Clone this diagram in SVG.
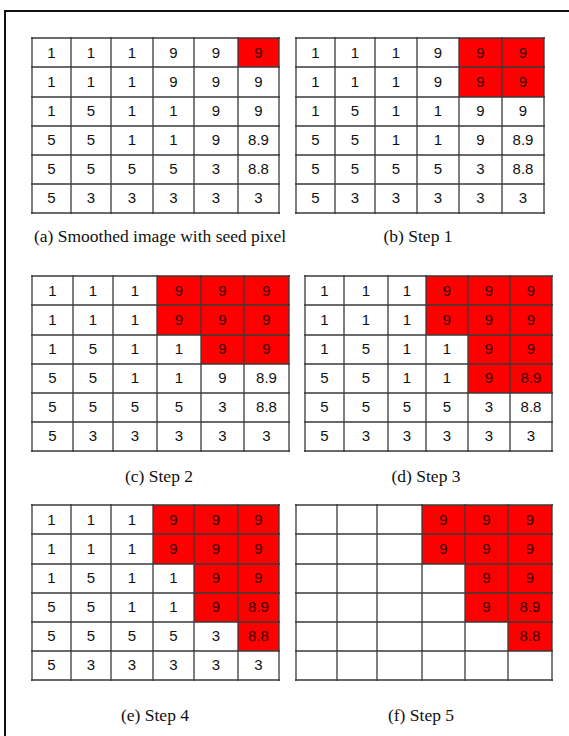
<svg xmlns="http://www.w3.org/2000/svg" width="569" height="736" viewBox="0 0 569 736">
<style>
.bg{fill:#ffffff}
.red{fill:#ff0000}
.gl{stroke:#3a3a3a;stroke-width:1.3;fill:none}
.v{font-family:"Liberation Sans",Arial,sans-serif;font-size:15px;fill:#111;text-anchor:middle}
.vr{fill:#3a0000}
.cap{font-family:"Liberation Serif","Times New Roman",serif;font-size:17.5px;fill:#111;text-anchor:middle}
.frame{stroke:#111;stroke-width:2;fill:none}
</style>
<rect class="bg" x="0" y="0" width="569" height="736"/>
<path class="frame" d="M5,736 V11 H569"/>

<!-- Grid A -->
<g id="grid-a">
<rect class="red" x="238" y="38" width="41" height="29"/>
<path class="gl" d="M31,38H280M31,67H280M31,97H280M31,126H280M31,155H280M31,184H280M31,213H280M32,37V214M71,37V214M111,37V214M153,37V214M194,37V214M238,37V214M279,37V214"/>
<g class="v">
<text x="51.5" y="58">1</text><text x="91" y="58">1</text><text x="132" y="58">1</text><text x="173.5" y="58">9</text><text x="216" y="58">9</text><text class="vr" x="258.5" y="58">9</text>
<text x="51.5" y="87">1</text><text x="91" y="87">1</text><text x="132" y="87">1</text><text x="173.5" y="87">9</text><text x="216" y="87">9</text><text x="258.5" y="87">9</text>
<text x="51.5" y="116">1</text><text x="91" y="116">5</text><text x="132" y="116">1</text><text x="173.5" y="116">1</text><text x="216" y="116">9</text><text x="258.5" y="116">9</text>
<text x="51.5" y="145">5</text><text x="91" y="145">5</text><text x="132" y="145">1</text><text x="173.5" y="145">1</text><text x="216" y="145">9</text><text x="258.5" y="145">8.9</text>
<text x="51.5" y="174">5</text><text x="91" y="174">5</text><text x="132" y="174">5</text><text x="173.5" y="174">5</text><text x="216" y="174">3</text><text x="258.5" y="174">8.8</text>
<text x="51.5" y="203">5</text><text x="91" y="203">3</text><text x="132" y="203">3</text><text x="173.5" y="203">3</text><text x="216" y="203">3</text><text x="258.5" y="203">3</text>
</g>
<text class="cap" x="160" y="242">(a) Smoothed image with seed pixel</text>
</g>

<!-- Grid B -->
<g id="grid-b">
<rect class="red" x="459" y="38" width="85" height="59"/>
<path class="gl" d="M295,38H545M295,67H545M295,97H545M295,126H545M295,155H545M295,184H545M295,213H545M296,37V214M335,37V214M375,37V214M417,37V214M459,37V214M502,37V214M544,37V214"/>
<g class="v">
<text x="315.5" y="58">1</text><text x="355" y="58">1</text><text x="396" y="58">1</text><text x="438" y="58">9</text><text class="vr" x="480.5" y="58">9</text><text class="vr" x="523" y="58">9</text>
<text x="315.5" y="87">1</text><text x="355" y="87">1</text><text x="396" y="87">1</text><text x="438" y="87">9</text><text class="vr" x="480.5" y="87">9</text><text class="vr" x="523" y="87">9</text>
<text x="315.5" y="116">1</text><text x="355" y="116">5</text><text x="396" y="116">1</text><text x="438" y="116">1</text><text x="480.5" y="116">9</text><text x="523" y="116">9</text>
<text x="315.5" y="145">5</text><text x="355" y="145">5</text><text x="396" y="145">1</text><text x="438" y="145">1</text><text x="480.5" y="145">9</text><text x="523" y="145">8.9</text>
<text x="315.5" y="174">5</text><text x="355" y="174">5</text><text x="396" y="174">5</text><text x="438" y="174">5</text><text x="480.5" y="174">3</text><text x="523" y="174">8.8</text>
<text x="315.5" y="203">5</text><text x="355" y="203">3</text><text x="396" y="203">3</text><text x="438" y="203">3</text><text x="480.5" y="203">3</text><text x="523" y="203">3</text>
</g>
<text class="cap" x="418" y="242">(b) Step 1</text>
</g>

<!-- Grid C -->
<g id="grid-c">
<path class="red" d="M157,276H289V364H201V335H157Z"/>
<path class="gl" d="M31,276H290M31,305H290M31,335H290M31,364H290M31,393H290M31,422H290M31,451H290M32,275V452M73,275V452M113,275V452M157,275V452M201,275V452M244,275V452M289,275V452"/>
<g class="v">
<text x="52.5" y="296">1</text><text x="93" y="296">1</text><text x="135" y="296">1</text><text class="vr" x="179" y="296">9</text><text class="vr" x="222.5" y="296">9</text><text class="vr" x="266.5" y="296">9</text>
<text x="52.5" y="325">1</text><text x="93" y="325">1</text><text x="135" y="325">1</text><text class="vr" x="179" y="325">9</text><text class="vr" x="222.5" y="325">9</text><text class="vr" x="266.5" y="325">9</text>
<text x="52.5" y="354">1</text><text x="93" y="354">5</text><text x="135" y="354">1</text><text x="179" y="354">1</text><text class="vr" x="222.5" y="354">9</text><text class="vr" x="266.5" y="354">9</text>
<text x="52.5" y="383">5</text><text x="93" y="383">5</text><text x="135" y="383">1</text><text x="179" y="383">1</text><text x="222.5" y="383">9</text><text x="266.5" y="383">8.9</text>
<text x="52.5" y="412">5</text><text x="93" y="412">5</text><text x="135" y="412">5</text><text x="179" y="412">5</text><text x="222.5" y="412">3</text><text x="266.5" y="412">8.8</text>
<text x="52.5" y="441">5</text><text x="93" y="441">3</text><text x="135" y="441">3</text><text x="179" y="441">3</text><text x="222.5" y="441">3</text><text x="266.5" y="441">3</text>
</g>
<text class="cap" x="159" y="482">(c) Step 2</text>
</g>

<!-- Grid D -->
<g id="grid-d">
<path class="red" d="M426,276H552V393H468V335H426Z"/>
<path class="gl" d="M304,276H553M304,305H553M304,335H553M304,364H553M304,393H553M304,422H553M304,451H553M305,275V452M344,275V452M388,275V452M426,275V452M468,275V452M510,275V452M552,275V452"/>
<g class="v">
<text x="324.5" y="296">1</text><text x="366" y="296">1</text><text x="407" y="296">1</text><text class="vr" x="447" y="296">9</text><text class="vr" x="489" y="296">9</text><text class="vr" x="531" y="296">9</text>
<text x="324.5" y="325">1</text><text x="366" y="325">1</text><text x="407" y="325">1</text><text class="vr" x="447" y="325">9</text><text class="vr" x="489" y="325">9</text><text class="vr" x="531" y="325">9</text>
<text x="324.5" y="354">1</text><text x="366" y="354">5</text><text x="407" y="354">1</text><text x="447" y="354">1</text><text class="vr" x="489" y="354">9</text><text class="vr" x="531" y="354">9</text>
<text x="324.5" y="383">5</text><text x="366" y="383">5</text><text x="407" y="383">1</text><text x="447" y="383">1</text><text class="vr" x="489" y="383">9</text><text class="vr" x="531" y="383">8.9</text>
<text x="324.5" y="412">5</text><text x="366" y="412">5</text><text x="407" y="412">5</text><text x="447" y="412">5</text><text x="489" y="412">3</text><text x="531" y="412">8.8</text>
<text x="324.5" y="441">5</text><text x="366" y="441">3</text><text x="407" y="441">3</text><text x="447" y="441">3</text><text x="489" y="441">3</text><text x="531" y="441">3</text>
</g>
<text class="cap" x="426" y="482">(d) Step 3</text>
</g>

<!-- Grid E -->
<g id="grid-e">
<path class="red" d="M153,505H279V651H238V622H194V564H153Z"/>
<path class="gl" d="M31,505H280M31,534H280M31,564H280M31,593H280M31,622H280M31,651H280M31,680H280M32,504V681M71,504V681M111,504V681M153,504V681M194,504V681M238,504V681M279,504V681"/>
<g class="v">
<text x="51.5" y="525">1</text><text x="91" y="525">1</text><text x="132" y="525">1</text><text class="vr" x="173.5" y="525">9</text><text class="vr" x="216" y="525">9</text><text class="vr" x="258.5" y="525">9</text>
<text x="51.5" y="554">1</text><text x="91" y="554">1</text><text x="132" y="554">1</text><text class="vr" x="173.5" y="554">9</text><text class="vr" x="216" y="554">9</text><text class="vr" x="258.5" y="554">9</text>
<text x="51.5" y="583">1</text><text x="91" y="583">5</text><text x="132" y="583">1</text><text x="173.5" y="583">1</text><text class="vr" x="216" y="583">9</text><text class="vr" x="258.5" y="583">9</text>
<text x="51.5" y="612">5</text><text x="91" y="612">5</text><text x="132" y="612">1</text><text x="173.5" y="612">1</text><text class="vr" x="216" y="612">9</text><text class="vr" x="258.5" y="612">8.9</text>
<text x="51.5" y="641">5</text><text x="91" y="641">5</text><text x="132" y="641">5</text><text x="173.5" y="641">5</text><text x="216" y="641">3</text><text class="vr" x="258.5" y="641">8.8</text>
<text x="51.5" y="670">5</text><text x="91" y="670">3</text><text x="132" y="670">3</text><text x="173.5" y="670">3</text><text x="216" y="670">3</text><text x="258.5" y="670">3</text>
</g>
<text class="cap" x="155" y="721">(e) Step 4</text>
</g>

<!-- Grid F -->
<g id="grid-f">
<path class="red" d="M422,505H552V651H508V622H465V564H422Z"/>
<path class="gl" d="M295,505H553M295,534H553M295,564H553M295,593H553M295,622H553M295,651H553M295,680H553M296,504V681M337,504V681M377,504V681M422,504V681M465,504V681M508,504V681M552,504V681"/>
<g class="v vr">
<text x="443.5" y="525">9</text><text x="486.5" y="525">9</text><text x="530" y="525">9</text>
<text x="443.5" y="554">9</text><text x="486.5" y="554">9</text><text x="530" y="554">9</text>
<text x="486.5" y="583">9</text><text x="530" y="583">9</text>
<text x="486.5" y="612">9</text><text x="530" y="612">8.9</text>
<text x="530" y="641">8.8</text>
</g>
<text class="cap" x="421" y="721">(f) Step 5</text>
</g>
</svg>
